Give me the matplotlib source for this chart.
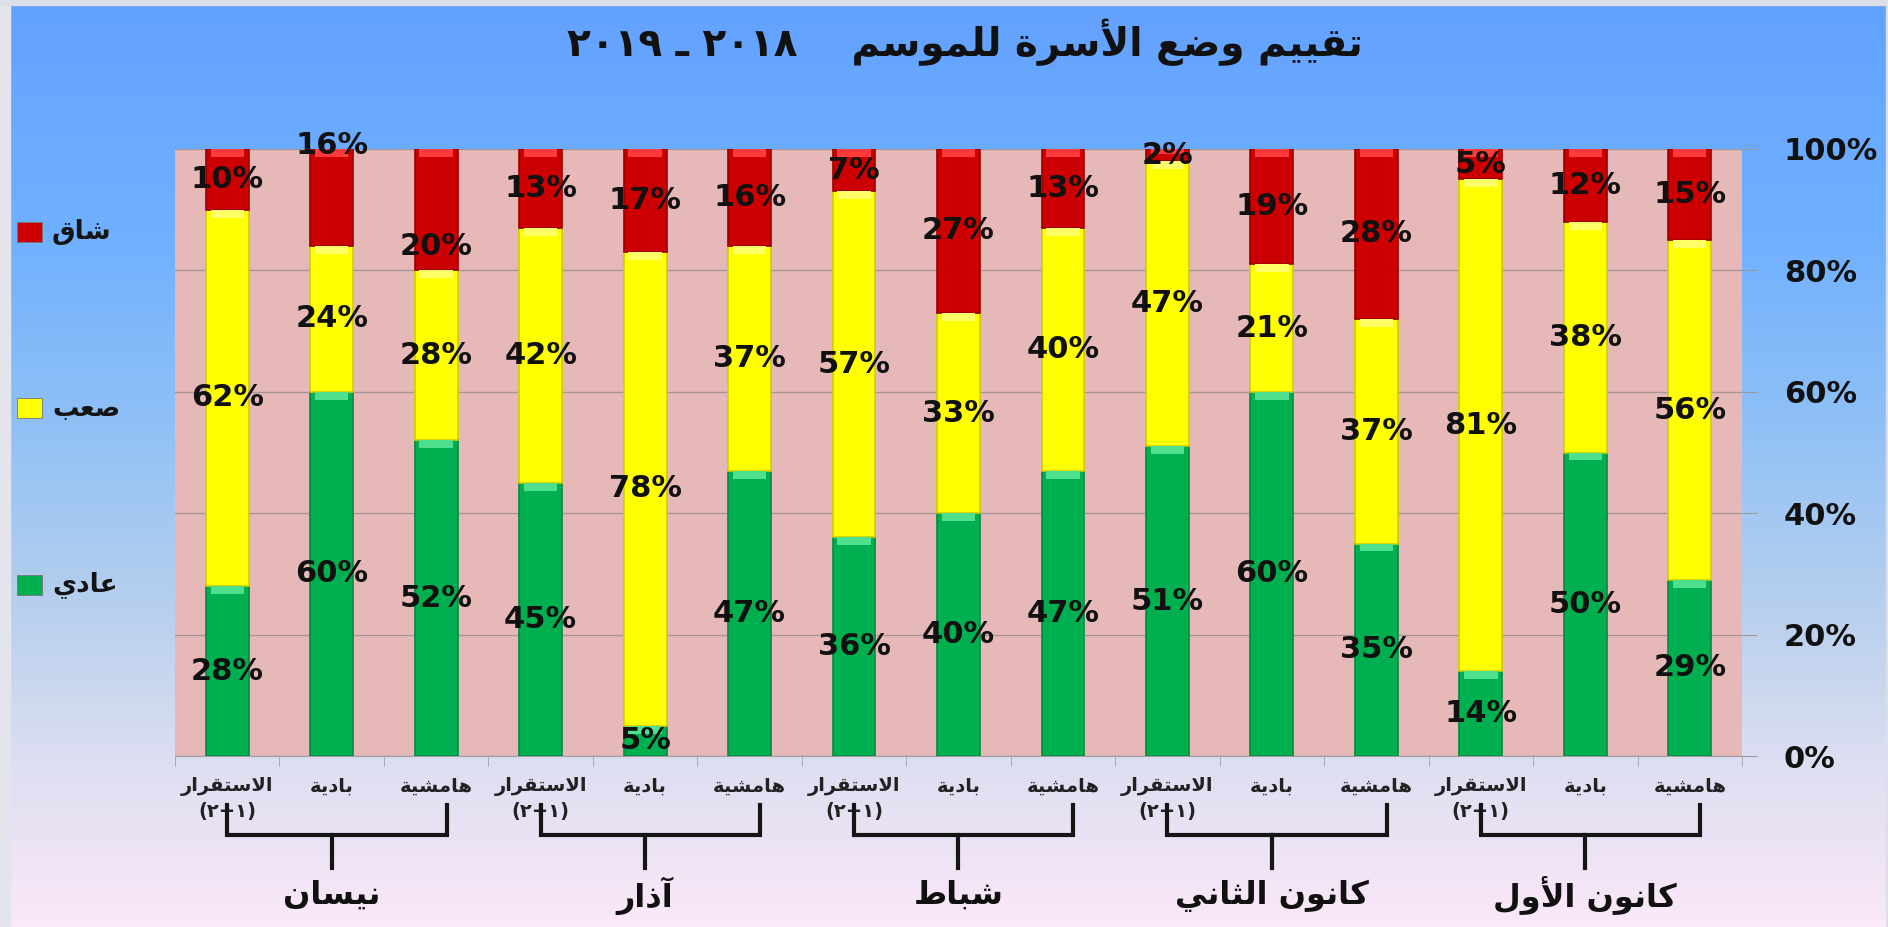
import numpy as np
import matplotlib.pyplot as plt
from matplotlib.colors import LinearSegmentedColormap
from matplotlib.patches import Rectangle
from matplotlib.transforms import blended_transform_factory

plt.rcParams["font.family"] = ["DejaVu Sans"]

# data, in the order the bars are drawn (left to right)
groups = ["نيسان", "آذار", "شباط", "كانون الثاني", "كانون الأول"]
regions = ["الاستقرار", "بادية", "هامشية"]
normal = [28, 60, 52, 45, 5, 47, 36, 40, 47, 51, 60, 35, 14, 50, 29]
hard = [62, 24, 28, 42, 78, 37, 57, 33, 40, 47, 21, 37, 81, 38, 56]
severe = [10, 16, 20, 13, 17, 16, 7, 27, 13, 2, 19, 28, 5, 12, 15]
series_names = ["عادي", "صعب", "شاق"]
title_text = "تقييم وضع الأسرة للموسم"
y_ticks = [0, 20, 40, 60, 80, 100]


# --- minimal arabic shaping (matplotlib does no bidi / joining) ---
FORMS = {
    "ا": (0xFE8D, 2), "أ": (0xFE83, 2), "آ": (0xFE81, 2), "إ": (0xFE87, 2),
    "ب": (0xFE8F, 4), "ة": (0xFE93, 2), "ت": (0xFE95, 4), "ث": (0xFE99, 4),
    "ج": (0xFE9D, 4), "ح": (0xFEA1, 4), "خ": (0xFEA5, 4), "د": (0xFEA9, 2),
    "ذ": (0xFEAB, 2), "ر": (0xFEAD, 2), "ز": (0xFEAF, 2), "س": (0xFEB1, 4),
    "ش": (0xFEB5, 4), "ص": (0xFEB9, 4), "ض": (0xFEBD, 4), "ط": (0xFEC1, 4),
    "ظ": (0xFEC5, 4), "ع": (0xFEC9, 4), "غ": (0xFECD, 4), "ف": (0xFED1, 4),
    "ق": (0xFED5, 4), "ك": (0xFED9, 4), "ل": (0xFEDD, 4), "م": (0xFEE1, 4),
    "ن": (0xFEE5, 4), "ه": (0xFEE9, 4), "و": (0xFEED, 2), "ى": (0xFEEF, 2),
    "ي": (0xFEF1, 4),
}
LAM_ALEF = {"آ": 0xFEF5, "أ": 0xFEF7, "إ": 0xFEF9, "ا": 0xFEFB}


def ar(text):
    units = []
    i = 0
    while i < len(text):
        c = text[i]
        if c == "ل" and i + 1 < len(text) and text[i + 1] in LAM_ALEF:
            units.append((LAM_ALEF[text[i + 1]], 2))
            i += 2
        elif c in FORMS:
            units.append(FORMS[c])
            i += 1
        else:
            units.append(c)
            i += 1
    out = []
    for k, u in enumerate(units):
        if isinstance(u, str):
            out.append(u)
            continue
        base, n = u
        prev = units[k - 1] if k > 0 else None
        nxt = units[k + 1] if k + 1 < len(units) else None
        jp = isinstance(prev, tuple) and prev[1] == 4
        jn = n == 4 and isinstance(nxt, tuple)
        if jp and jn:
            off = 3
        elif jp:
            off = 1
        elif jn:
            off = 2
        else:
            off = 0
        out.append(chr(base + off))
    return "".join(out)[::-1]


W, H = 1888, 927
fig = plt.figure(figsize=(W / 100, H / 100), dpi=100)

# background gradient
bg = fig.add_axes([0, 0, 1, 1], zorder=-10)
cmap = LinearSegmentedColormap.from_list(
    "bg",
    [(0.0, "#62A2FF"), (0.25, "#70B0FF"), (0.45, "#8EC0F6"),
     (0.65, "#B6CFEE"), (0.82, "#DCDEF1"), (1.0, "#FBE8F8")],
)
bg.imshow(np.linspace(0, 1, 256).reshape(-1, 1), aspect="auto", cmap=cmap,
          extent=[0, 1, 0, 1])
bg.set_xlim(0, 1)
bg.set_ylim(0, 1)
bg.axis("off")
fig.add_artist(Rectangle((0, 0), 10 / W, 1, transform=fig.transFigure,
                         color="#E3E4EC", zorder=-5))
fig.add_artist(Rectangle((0, 1 - 5 / H), 1, 5 / H, transform=fig.transFigure,
                         color="#DCDEE8", zorder=-5))
fig.add_artist(Rectangle((1 - 2 / W, 0), 2 / W, 1, transform=fig.transFigure,
                         color="#DCDEE8", zorder=-5))

ax = fig.add_axes([175 / W, (H - 756) / H, (1742 - 175) / W, (756 - 149) / H])
ax.set_facecolor("#E6B9B8")

x = np.arange(len(normal))
width = 0.41
colors = ["#00B050", "#FFFF00", "#CC0000"]
edges = ["#008C40", "#CFCF00", "#9A0000"]
highlights = ["#4FE08F", "#FFFF66", "#FF3A3A"]

bottom = np.zeros(len(x))
for vals, col, ec, hl in zip([normal, hard, severe], colors, edges, highlights):
    vals = np.array(vals, dtype=float)
    ax.bar(x, vals, width, bottom=bottom, color=col, edgecolor=ec,
           linewidth=1.2, zorder=3)
    hh = np.minimum(1.3, vals * 0.4)
    ax.bar(x, hh, width * 0.78, bottom=bottom + vals - hh, color=hl,
           linewidth=0, zorder=4)
    bottom += vals

# data labels (two red labels were moved by hand in the original)
nudge = {(1, 2): 8.5, (2, 2): -6}
bottom = np.zeros(len(x))
for s, vals in enumerate([normal, hard, severe]):
    for i, v in enumerate(vals):
        yy = bottom[i] + v / 2 + nudge.get((i, s), 0)
        ax.text(x[i], yy, f"{v}%", ha="center", va="center", fontsize=22,
                fontweight="bold", color="#111111", zorder=6)
    bottom += np.array(vals)

ax.set_xlim(-0.5, len(x) - 0.5)
ax.set_ylim(0, 100)
ax.yaxis.tick_right()
ax.set_yticks(y_ticks, [f"{t}%" for t in y_ticks], fontsize=22,
              fontweight="bold")
ax.tick_params(axis="y", length=11, color="#9A9A9A", pad=19, labelcolor="#111111")
ax.grid(axis="y", color="#A49696", linewidth=1.0, zorder=1)
ax.set_axisbelow(True)
for sp in ["left", "right", "top"]:
    ax.spines[sp].set_visible(False)
ax.spines["bottom"].set_color("#A0A0A0")

xlabels = []
for i in range(len(x)):
    name = regions[i % 3]
    if i % 3 == 0:
        xlabels.append(ar(name) + "\n(٢+١)")
    else:
        xlabels.append(ar(name))
ax.set_xticks(x, xlabels, fontsize=14, fontweight="bold", linespacing=1.4)
ax.set_xticks(np.arange(-0.5, len(x)), minor=True)
ax.tick_params(axis="x", which="major", length=0, pad=15, labelcolor="#222222")
ax.tick_params(axis="x", which="minor", length=7, color="#A0A0A0")

# month brackets under the bars
tr = blended_transform_factory(ax.transData, ax.transAxes)
for g, name in enumerate(groups):
    x0, x1 = x[3 * g], x[3 * g + 2] + 0.1
    xm = x[3 * g + 1]
    ax.plot([x0, x0, x1, x1], [-0.08, -0.13, -0.13, -0.08], color="#151515",
            lw=3, transform=tr, clip_on=False, solid_joinstyle="miter")
    ax.plot([xm, xm], [-0.13, -0.185], color="#151515", lw=3, transform=tr,
            clip_on=False)
    ax.text(xm, -0.23, ar(name), transform=tr, ha="center", va="center",
            fontsize=23, fontweight="bold", color="#111111")

# legend on the left, drawn by hand
for name, col, yc in zip(series_names, colors, [585, 408, 232]):
    fig.add_artist(Rectangle((17 / W, (H - yc - 10) / H), 25 / W, 20 / H,
                             transform=fig.transFigure, facecolor=col,
                             edgecolor="#777777", linewidth=0.6))
    fig.text(52 / W, (H - yc) / H, ar(name), ha="left", va="center",
             fontsize=19, fontweight="bold", color="#151515")

fig.text(965 / W, (H - 42) / H, "٢٠١٩ ـ ٢٠١٨    " + ar(title_text),
         ha="center", va="center", fontsize=28, fontweight="bold",
         color="#111111")

fig.savefig("out.png", dpi=100)
